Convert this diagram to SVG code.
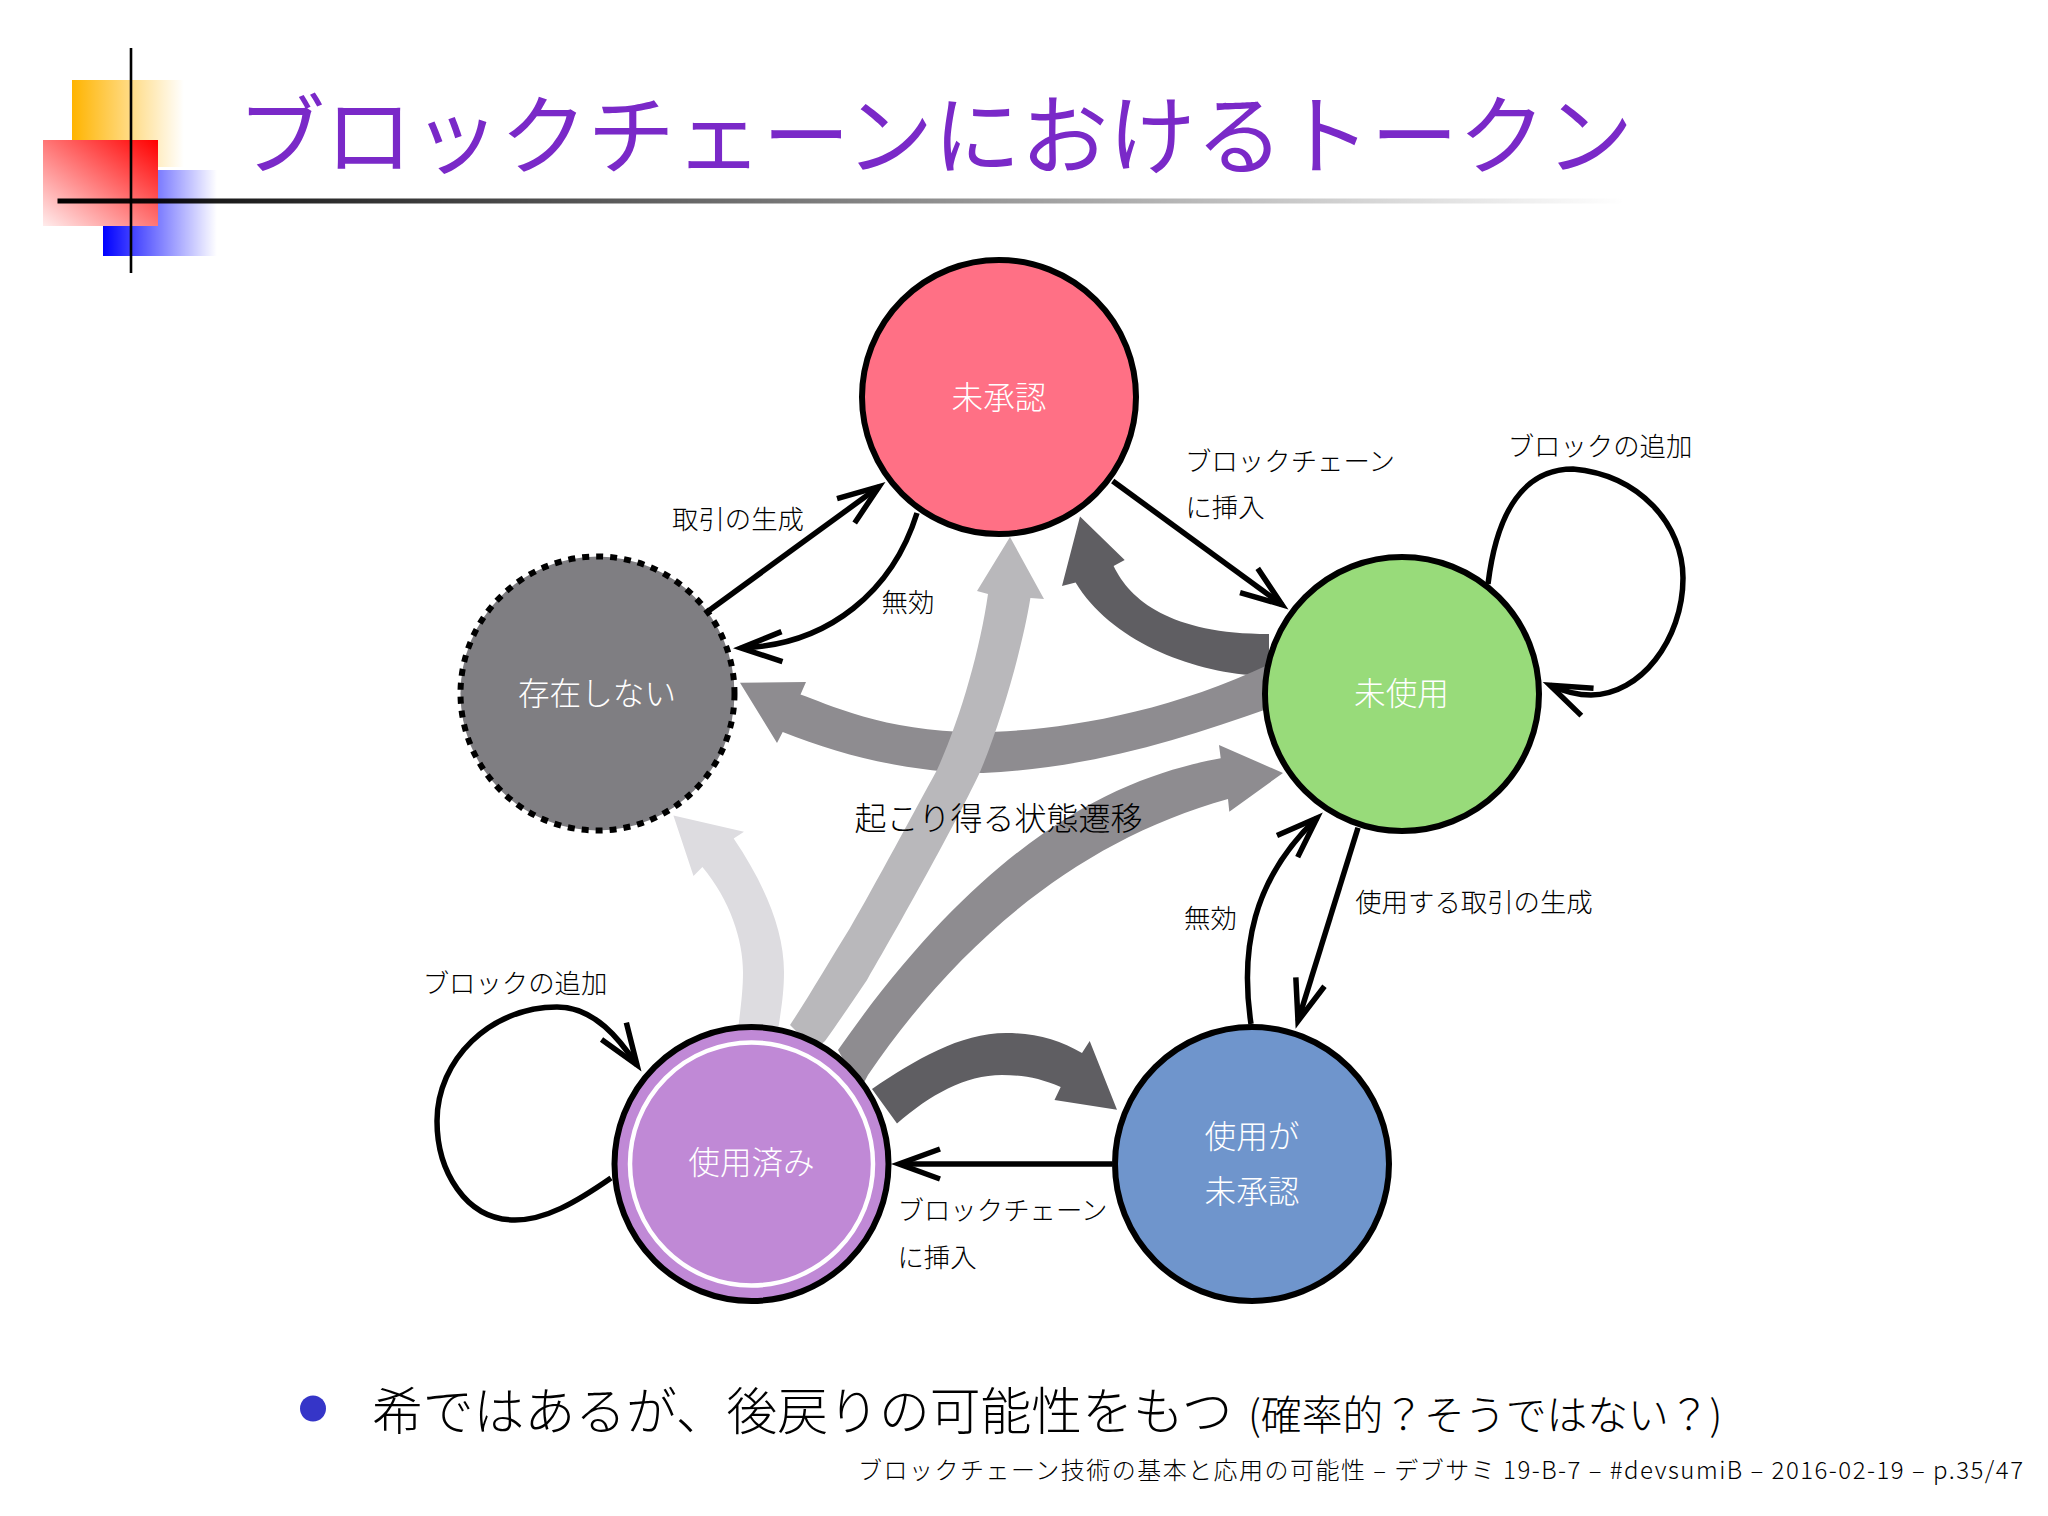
<svg xmlns="http://www.w3.org/2000/svg" width="2048" height="1516" viewBox="0 0 2048 1516">
<style>
text{font-family:"Noto Sans CJK JP","Noto Sans",sans-serif;fill:#000;font-weight:300}
.lb{font-size:26.4px;text-anchor:middle}
.nl{font-size:31.6px;text-anchor:middle;fill:#fff}
.st{stroke:#000;stroke-width:6}
.e{fill:none;stroke:#000;stroke-width:5.5;marker-end:url(#open)}
</style>
<defs>
<marker id="open" markerUnits="userSpaceOnUse" markerWidth="70" markerHeight="60" viewBox="-55 -30 70 60" refX="0" refY="0" orient="auto">
<path d="M-41,-15L0,0L-41,15" fill="none" stroke="#000" stroke-width="5.5"/>
</marker>
<linearGradient id="go"><stop offset="0" stop-color="#FFB400"/><stop offset="1" stop-color="#FFB400" stop-opacity="0"/></linearGradient>
<linearGradient id="gb"><stop offset="0" stop-color="#0000FF"/><stop offset="1" stop-color="#0000FF" stop-opacity="0"/></linearGradient>
<linearGradient id="gr" x1="1" y1="0" x2="0" y2="1"><stop offset="0" stop-color="#FF0000"/><stop offset="1" stop-color="#FFECEC"/></linearGradient>
<linearGradient id="gl"><stop offset="0" stop-color="#000"/><stop offset="1" stop-color="#000" stop-opacity="0"/></linearGradient>
</defs>
<g id="decor">
<rect x="72" y="80" width="112" height="87" fill="url(#go)"/>
<rect x="103" y="170" width="114" height="86" fill="url(#gb)"/>
<rect x="43" y="140" width="115" height="86" fill="url(#gr)"/>
<rect x="57.5" y="198.5" width="1568" height="5" fill="url(#gl)"/>
<rect x="129.7" y="48" width="2.6" height="225" fill="#000"/>
</g>
<text id="title" x="237.5" y="168" style="font-size:87.5px;fill:#7A29C8;font-weight:400">ブロックチェーンにおけるトークン</text>
<g id="state-arrows">
<path fill="#DDDCE0" d="M673.4,815.5L744,831.7L733.7,838.6C765,885 784,930 784,972C784,990 782,1005 778,1030L738,1030C741,1005 743,990 743,972C743,940 730,900 702.4,867L693.5,876Z"/>
<path fill="#8E8C90" d="M1283,773L1219,745L1220.7,758.3C1130,775 995,825 838,1050L860,1090L868,1075C960,940 1080,840 1228,799L1229.3,811.7Z"/>
<path fill="#5F5E62" d="M1080,516.6L1124.7,560L1113.6,566C1130,600 1170,634 1269,634L1269,676L1256,675.5C1190,672 1110,640 1075.6,582.6L1062,586Z"/>
<path fill="#8E8C90" d="M740,682.7L806,682L800.5,694.5C825,703 885,732 975,732C1050,732 1160,716 1270,664L1270,708C1180,740 1090,768 983,773C915,773 845,757 782.7,732L777,743Z"/>
<path fill="#B9B8BB" d="M1010,537L1044,599L1030.4,598C1022,650 1000,725 980,772C960,815 905,915 867,980C850,1005 840,1020 825,1041L815,1050L790,1025C810,995 830,960 850,928C875,885 915,810 937,770C960,720 980,650 988,594L977,591Z"/>
<path fill="#5F5E62" d="M1117,1109.7L1089.7,1041L1082,1053C1060,1040 1035,1033 1006,1033C960,1033 915,1060 872,1089L897,1123.4C930,1095 965,1075 1002,1075C1022,1075 1040,1078 1060.7,1087L1054.5,1100Z"/>
</g>
<g id="connectors">
<path id="e-create" class="e" d="M707.7,611.5L879,486.7"/>
<path id="e-invalid-top" class="e" d="M917,513C893,590 830,645 741,648"/>
<path id="e-insert-top" class="e" d="M1112.7,481L1282,604.7"/>
<path id="e-add-right" class="e" d="M1488,584C1497,510 1525,469 1573,469C1640,475 1683,525 1683,578C1683,640 1640,695 1591,695C1575,695 1563,691 1550,685.2"/>
<path id="e-spend" class="e" d="M1358,827.7L1298,1021"/>
<path id="e-invalid-low" class="e" d="M1251,1024C1240,950 1252,880 1317,818"/>
<path id="e-insert-low" class="e" d="M1112.5,1164L899,1164"/>
<path id="e-add-left" class="e" d="M611,1178C575,1203 545,1220 515,1220C465,1220 437,1170 437,1121C437,1060 490,1007 557,1007C595,1007 620,1040 637,1065"/>
</g>
<g id="node-unconfirmed"><circle cx="999" cy="397" r="137" fill="#FF7085" class="st"/><text class="nl" x="999" y="409">未承認</text></g>
<g id="node-nonexistent"><circle cx="597.5" cy="693.5" r="137" fill="#7F7E82" stroke="#000" stroke-width="6" stroke-dasharray="7 7"/><text class="nl" x="597" y="705">存在しない</text></g>
<g id="node-unspent"><circle cx="1402" cy="694" r="137" fill="#98DB7A" class="st"/><text class="nl" x="1401.5" y="705">未使用</text></g>
<g id="node-spent"><circle cx="751.5" cy="1164" r="137" fill="#C089D6" class="st"/><circle cx="751.5" cy="1164" r="121.5" fill="none" stroke="#fff" stroke-width="4.5"/><text class="nl" x="751.5" y="1174">使用済み</text></g>
<g id="node-spend-unconfirmed"><circle cx="1252" cy="1164" r="137" fill="#6F95CC" class="st"/><text class="nl" x="1252" y="1148">使用が</text><text class="nl" x="1252" y="1203">未承認</text></g>
<g id="edge-labels">
<text class="lb" x="738" y="529">取引の生成</text>
<text class="lb" x="908" y="612">無効</text>
<text class="lb" x="1290" y="471">ブロックチェーン</text>
<text class="lb" x="1225" y="517">に挿入</text>
<text class="lb" x="1600" y="455.5">ブロックの追加</text>
<text class="lb" x="1474" y="912">使用する取引の生成</text>
<text class="lb" x="1210.5" y="928">無効</text>
<text class="lb" x="515" y="993">ブロックの追加</text>
<text class="lb" x="1002.5" y="1220">ブロックチェーン</text>
<text class="lb" x="937" y="1267">に挿入</text>
<text x="998.5" y="830" style="font-size:32px;text-anchor:middle">起こり得る状態遷移</text>
</g>
<ellipse id="bullet" cx="313" cy="1408.5" rx="13" ry="13" fill="#3535C8"/>
<text id="body" x="372" y="1430" style="font-size:50.8px">希ではあるが、後戻りの可能性をもつ<tspan x="1248" y="1430" style="font-size:40.8px">(確率的？そうではない？)</tspan></text>
<text id="footer" x="858" y="1479" textLength="1165" style="font-size:24px">ブロックチェーン技術の基本と応用の可能性 – デブサミ 19-B-7 – #devsumiB – 2016-02-19 – p.35/47</text>
</svg>
